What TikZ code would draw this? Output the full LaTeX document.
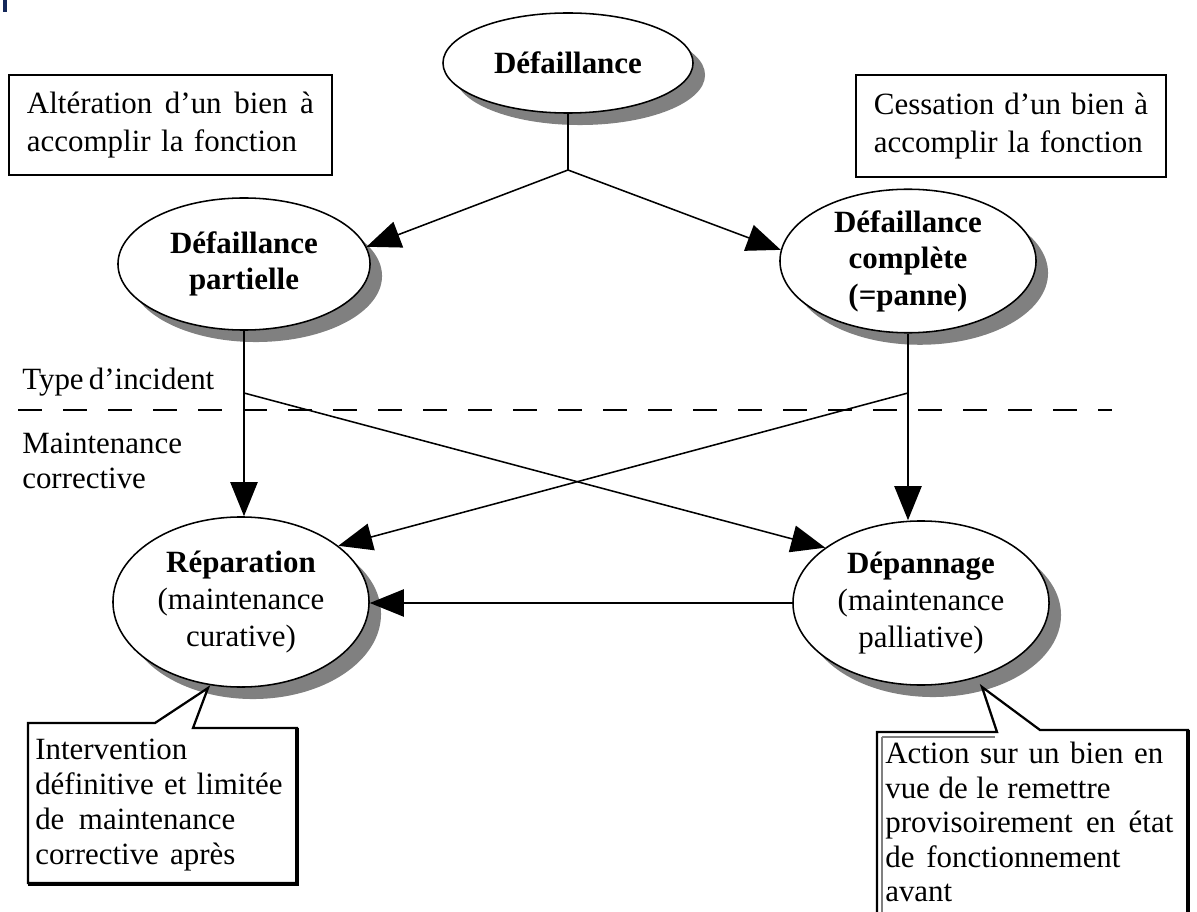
\documentclass[tikz,border=0pt]{standalone}
\usepackage{fontspec}
\setmainfont{Liberation Serif}
\usetikzlibrary{arrows.meta,shapes.geometric,shadows}
\newcommand{\spreadline}[2]{\makebox[#1][s]{#2}}
\begin{document}
\begin{tikzpicture}[x=0.025cm,y=-0.025cm,
  oval/.style={ellipse, draw, line width=1.1pt, fill=white, inner sep=0pt, align=center,
    font=\fontsize{22}{26}\selectfont,
    drop shadow={shadow xshift=0.3cm, shadow yshift=-0.3cm, fill=gray, opacity=1, draw=none}},
  infobox/.style={draw, line width=1.4pt, inner xsep=0.45cm, inner ysep=0pt, align=left,
    font=\fontsize{22}{27}\selectfont},
  lbl/.style={inner sep=0pt, align=left, font=\fontsize{22}{25}\selectfont},
  conn/.style={line width=1.1pt},
  arr/.style={line width=1.1pt, -{Triangle[length=0.85cm, width=0.68cm]}},
  dashline/.style={line width=1.8pt, dash pattern=on 0.6cm off 0.525cm},
  callout/.style={line width=1.6pt, fill=white, line join=miter},
]
\useasboundingbox (0,0) rectangle (1197,912);
\fill[fill={rgb,255:red,20;green,40;blue,90}] (3,0) rectangle (7,12);

% top boxes
\node[infobox, minimum width=8.05cm, minimum height=2.5cm, anchor=west] (alt) at (8,125)
  {\spreadline{7.17cm}{Altération d’un bien à}\\\spreadline{6.75cm}{accomplir la fonction}};
\node[infobox, minimum width=7.7cm, minimum height=2.55cm, anchor=west] (ces) at (855,126)
  {\spreadline{6.85cm}{Cessation d’un bien à}\\\spreadline{6.72cm}{accomplir la fonction}};

% ellipses
\node[oval, minimum width=6.25cm, minimum height=2.5cm] (top) at (568,63) {\textbf{Défaillance}};
\node[oval, minimum width=6.3cm, minimum height=3.3cm] (part) at (244,264) {\textbf{Défaillance}\\\textbf{partielle}};
\node[oval, minimum width=6.4cm, minimum height=3.05cm] (comp) at (908,261) {\textbf{Défaillance}\\\textbf{complète}\\\textbf{(=panne)}};
\node[oval, minimum width=6.4cm, minimum height=4.25cm] (rep) at (241,602) {\textbf{Réparation}\\(maintenance\\curative)};
\node[oval, minimum width=6.4cm, minimum height=4.1cm] (dep) at (921,603) {\textbf{Dépannage}\\(maintenance\\palliative)};

% side labels and dashed separator
\node[lbl, anchor=west] (ti) at (22,382) {\spreadline{4.8cm}{Type d’incident}};
\node[lbl, anchor=west] (mc) at (22,461) {Maintenance\\corrective};
\coordinate (dl) at (18,410);
\coordinate (dr) at (1112,410);
\draw[dashline] (dl) -- (dr);

% connectors
\coordinate (split) at (top.south |- 0,170);
\coordinate (dashy) at (0,393);
\draw[conn] (top.south) -- (split);
\draw[arr] (split) -- (part.8);
\draw[arr] (split) -- (comp.175);
\coordinate (lk) at (part.south |- dashy);
\coordinate (rk) at (comp.south |- dashy);
\draw[arr] (part.south) -- (part.south |- rep.north);
\draw[arr] (comp.south) -- (comp.south |- dep.north);
\draw[arr] (lk) -- (dep.150);
\draw[arr] (rk) -- (rep.30);
\draw[arr] (dep.west) -- (dep.west -| rep.east);

% callouts
\coordinate (ltip) at (208,688);
\coordinate (rtip) at (982,687);
\draw[gray, line width=1.2pt] (31,727) -- (150,727);
\draw[callout] (28,723) -- (155,723) -- (ltip) -- (193,728) -- (297,728) -- (297,883) -- (28,883) -- cycle;
\draw[line width=2.6pt] (297,728) -- (297,884) -- (28,884);
\node[lbl, anchor=west] (lc) at (35,805)
  {\spreadline{3.8cm}{Interven\hfil tion}\\\spreadline{6.18cm}{définitive et limitée}\\\spreadline{5.0cm}{de maintenance}\\\spreadline{5.0cm}{corrective après}};

\draw[callout] (877,732) -- (997,732) -- (rtip) -- (1040,730) -- (1188,730) -- (1188,930) -- (877,930) -- cycle;
\draw[gray, line width=1.2pt] (882,737) -- (995,737);
\draw[gray, line width=1.2pt] (882,737) -- (882,930);
\draw[line width=2.6pt] (1188,730) -- (1188,930);
\node[lbl, anchor=west, font=\fontsize{22}{24.5}\selectfont] (rc) at (885,822)
  {\spreadline{6.95cm}{Action sur un bien en}\\\spreadline{5.63cm}{vue de le remettre}\\\spreadline{7.2cm}{provisoirement en état}\\\spreadline{5.88cm}{de fonctionnement}\\avant};
\end{tikzpicture}
\end{document}
